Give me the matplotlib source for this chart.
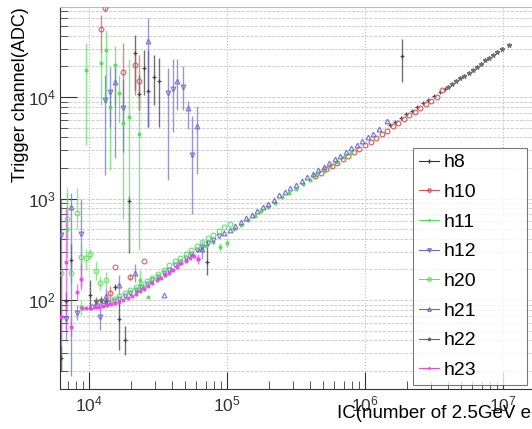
import numpy as np
import matplotlib
matplotlib.use("Agg")
import matplotlib.pyplot as plt
from matplotlib.lines import Line2D
from matplotlib.ticker import LogLocator, NullFormatter

plt.rcParams['font.family'] = ['Liberation Sans', 'DejaVu Sans']

# ---- data (log10 units) ----
# main curve pieces
h23_lx = [3.95, 3.98, 4.01, 4.04, 4.07, 4.10, 4.13, 4.16, 4.19, 4.22, 4.25, 4.28, 4.31, 4.34, 4.37,
          4.40, 4.43, 4.46, 4.49, 4.52, 4.55, 4.58, 4.61, 4.64, 4.67, 4.70, 4.73, 4.76, 4.79]
h23_ly = [1.92, 1.92, 1.92, 1.93, 1.93, 1.94, 1.95, 1.96, 1.97, 1.98, 2.00, 2.02, 2.04, 2.06, 2.09,
          2.11, 2.14, 2.17, 2.20, 2.22, 2.25, 2.27, 2.30, 2.33, 2.36, 2.38, 2.41, 2.43, 2.40]

h12_lx = [4.02, 4.06, 4.10, 4.14, 4.18, 4.22, 4.26, 4.30, 4.34, 4.38, 4.42, 4.46, 4.50, 4.54,
          4.58, 4.62, 4.66, 4.70, 4.74, 4.78, 4.82, 4.86, 4.90, 4.94]
h12_ly = [1.93, 1.94, 1.95, 1.97, 1.99, 2.01, 2.04, 2.07, 2.10, 2.13, 2.16, 2.20, 2.23, 2.27,
          2.30, 2.34, 2.37, 2.41, 2.45, 2.49, 2.52, 2.56, 2.59, 2.63]

h21_lx = [4.98, 5.02, 5.06, 5.10, 5.14, 5.18, 5.22, 5.26, 5.30, 5.34, 5.38, 5.42, 5.46, 5.50, 5.54,
          5.58, 5.62, 5.66, 5.70, 5.74, 5.78, 5.82, 5.86, 5.90, 5.94, 5.98, 6.02, 6.06, 6.10, 6.16]
h21_ly = [2.66, 2.69, 2.73, 2.77, 2.81, 2.84, 2.88, 2.92, 2.95, 2.99, 3.03, 3.06, 3.10, 3.13, 3.17,
          3.21, 3.24, 3.28, 3.31, 3.35, 3.39, 3.42, 3.46, 3.50, 3.53, 3.57, 3.61, 3.64, 3.68, 3.76]

h11_lx = [4.35, 4.40, 4.45, 4.50, 4.55, 4.60, 4.65, 4.70, 4.75, 4.80, 4.85, 4.90, 5.05, 5.10, 5.15,
          5.20, 5.25, 5.30, 5.35, 5.40, 5.45, 5.50, 5.55, 5.60, 5.65, 5.70, 5.75, 5.80, 5.85, 5.90]
h11_ly = [2.09, 2.13, 2.18, 2.22, 2.26, 2.30, 2.35, 2.39, 2.44, 2.49, 2.53, 2.57, 2.70, 2.74, 2.79,
          2.83, 2.88, 2.92, 2.96, 3.01, 3.05, 3.09, 3.14, 3.18, 3.23, 3.27, 3.32, 3.36, 3.41, 3.45]

h20_lx = [4.18, 4.22, 4.26, 4.30, 4.34, 4.38, 4.42, 4.46, 4.50, 4.54, 4.58, 4.62, 4.66, 4.70,
          4.74, 4.78, 4.82, 4.86, 4.90, 4.94, 4.98, 5.02]
h20_ly = [2.01, 2.04, 2.07, 2.10, 2.13, 2.16, 2.19, 2.22, 2.26, 2.30, 2.34, 2.38, 2.41, 2.45,
          2.49, 2.53, 2.57, 2.61, 2.64, 2.68, 2.72, 2.75]

h10_lx = [5.64, 5.68, 5.72, 5.76, 5.80, 5.84, 5.88, 5.92, 5.96, 6.00, 6.04, 6.08, 6.12, 6.16, 6.20,
          6.24, 6.28, 6.32, 6.36, 6.40, 6.44, 6.48, 6.52, 6.56]
h10_ly = [3.22, 3.25, 3.29, 3.32, 3.35, 3.39, 3.42, 3.46, 3.49, 3.53, 3.56, 3.60, 3.64, 3.67, 3.71,
          3.74, 3.78, 3.82, 3.85, 3.89, 3.93, 3.96, 4.00, 4.07]

h8_lx = [6.18, 6.22, 6.26, 6.30, 6.34, 6.38, 6.42, 6.46, 6.50, 6.54, 6.58]
h8_ly = [3.72, 3.75, 3.79, 3.83, 3.86, 3.90, 3.94, 3.97, 4.01, 4.05, 4.08]

h22_lx = [6.60, 6.63, 6.66, 6.69, 6.72, 6.75, 6.78, 6.81, 6.84, 6.87, 6.90, 6.93, 6.96, 6.99, 7.04]
h22_ly = [4.10, 4.13, 4.16, 4.19, 4.21, 4.24, 4.27, 4.30, 4.33, 4.36, 4.38, 4.41, 4.44, 4.47, 4.51]

# scattered points with error bars: x, y, y_low, y_high (log10)
h8_pts = [(6.27, 4.40, 4.15, 4.57), (4.29, 2.98, 2.46, 3.02), (4.33, 4.43, 4.07, 4.61),
          (4.36, 4.03, 3.87, 4.22), (4.40, 4.29, 4.02, 4.46), (4.43, 4.06, 3.70, 4.46),
          (4.47, 4.20, 3.92, 4.41), (4.51, 4.16, 3.70, 4.38), (4.22, 1.81, 1.51, 2.00),
          (4.26, 1.61, 1.46, 1.74), (3.87, 2.39, 2.30, 2.55), (3.83, 1.99, 1.90, 2.08),
          (3.80, 1.43, 1.30, 1.55), (4.01, 2.05, 1.90, 2.20), (4.19, 2.13, 2.10, 2.16),
          (4.855, 2.37, 2.25, 2.59)]
h22_pts = [(4.05, 1.99, 1.95, 2.03), (4.12, 1.99, 1.95, 2.03), (4.09, 2.00, 1.96, 2.04)]
h10_pts = [(4.116, 4.88, 4.84, 4.89), (4.085, 4.67, 4.43, 4.81), (4.25, 4.25, 3.92, 4.53),
           (4.33, 4.32, 4.02, 4.46), (4.36, 4.16, 3.87, 4.41), (4.15, 2.07, 2.00, 2.14),
           (4.19, 2.33, 2.33, 2.33), (4.30, 2.23, 2.20, 2.26), (4.40, 2.38, 2.38, 2.38)]
h11_pts = [(3.98, 4.27, 3.53, 4.53), (4.085, 4.34, 3.92, 4.53), (4.12, 4.46, 3.94, 4.66),
           (4.15, 3.90, 3.28, 4.07), (4.19, 4.32, 3.91, 4.50), (4.22, 4.04, 3.74, 4.22),
           (4.25, 3.74, 2.80, 4.00), (4.29, 3.80, 2.49, 4.37), (4.36, 3.64, 2.49, 4.05),
           (4.37, 2.20, 2.10, 2.30), (4.43, 2.03, 2.03, 2.03), (4.95, 2.52, 2.48, 2.56),
           (5.00, 2.56, 2.52, 2.60), (3.94, 1.93, 1.85, 2.00), (3.84, 2.70, 2.40, 3.05)]
h20_pts = [(3.80, 2.27, 2.10, 2.45), (3.87, 2.27, 2.17, 2.37), (3.94, 2.42, 2.30, 2.55),
           (3.98, 2.41, 2.30, 2.50), (4.01, 2.45, 2.40, 2.50), (4.05, 2.29, 2.20, 2.38),
           (4.08, 2.17, 2.10, 2.24), (4.12, 2.20, 2.12, 2.28), (3.84, 2.80, 2.60, 3.10),
           (3.91, 2.86, 2.70, 3.10)]
h12_pts = [(4.116, 3.97, 3.23, 4.22), (4.15, 4.05, 3.70, 4.30), (4.25, 3.89, 3.46, 4.17),
           (4.57, 4.04, 3.18, 4.29), (4.61, 4.08, 3.66, 4.37), (4.68, 4.10, 3.87, 4.31),
           (4.75, 3.43, 2.85, 3.81), (3.80, 2.64, 1.30, 3.00), (3.94, 2.65, 2.13, 3.00),
           (3.83, 1.81, 1.60, 2.00), (3.91, 1.87, 1.80, 1.95), (4.08, 1.83, 1.70, 1.95)]
h21_pts = [(4.19, 4.15, 3.40, 4.30), (4.43, 4.55, 3.70, 4.78), (4.64, 4.16, 3.87, 4.37),
           (4.72, 3.89, 3.68, 3.96), (4.78, 3.71, 3.24, 3.91), (3.87, 2.92, 1.25, 3.05),
           (4.12, 2.04, 1.95, 2.12), (4.22, 2.15, 2.05, 2.25), (4.33, 2.27, 2.18, 2.35),
           (4.54, 2.05, 2.05, 2.05), (4.82, 2.50, 2.40, 2.58)]
h23_pts = [(3.83, 2.37, 1.70, 2.90), (3.91, 2.08, 2.00, 2.16), (3.94, 2.21, 2.10, 2.35),
           (3.80, 1.83, 1.60, 2.30), (3.87, 1.73, 1.65, 1.82), (4.79, 2.40, 2.35, 2.45)]

names = ['h8', 'h10', 'h11', 'h12', 'h20', 'h21', 'h22', 'h23']
colors = {'h8': '#333333', 'h10': '#d45555', 'h11': '#55dd55', 'h12': '#6a6acc',
          'h20': '#66dd66', 'h21': '#6a6acc', 'h22': '#6a6a6a', 'h23': '#ee44ee'}
markers = {'h8': '+', 'h10': 'o', 'h11': '.', 'h12': 'v', 'h20': 'o', 'h21': '^', 'h22': '*', 'h23': '.'}
filled = {'h8': True, 'h10': False, 'h11': True, 'h12': False, 'h20': False, 'h21': False,
          'h22': True, 'h23': True}
curves = {'h8': (h8_lx, h8_ly), 'h10': (h10_lx, h10_ly), 'h11': (h11_lx, h11_ly),
          'h12': (h12_lx, h12_ly), 'h20': (h20_lx, h20_ly), 'h21': (h21_lx, h21_ly),
          'h22': (h22_lx, h22_ly), 'h23': (h23_lx, h23_ly)}
points = {'h8': h8_pts, 'h10': h10_pts, 'h11': h11_pts, 'h12': h12_pts, 'h20': h20_pts,
          'h21': h21_pts, 'h22': h22_pts, 'h23': h23_pts}

W, H = 532, 429
fig = plt.figure(figsize=(W / 100, H / 100), dpi=100)
ax = fig.add_axes([60 / W, 40 / H, 484 / W, 382 / H])
ax.set_xscale('log')
ax.set_yscale('log')
ax.set_xlim(10 ** 3.79, 10 ** 7.297)
ax.set_ylim(10 ** 1.123, 10 ** 4.887)

def mstyle(n):
    c = colors[n]
    return dict(marker=markers[n], ms=3.4 if markers[n] != '.' else 4.2, mew=0.9,
                mec=c, mfc=c if filled[n] else 'none', color=c)

for n in names:
    st = mstyle(n)
    pts = np.array(points[n])
    x = 10 ** pts[:, 0]
    y = 10 ** pts[:, 1]
    lo = 10 ** pts[:, 2]
    hi = 10 ** pts[:, 3]
    ax.errorbar(x, y, yerr=[y - lo, hi - y], fmt='none', ecolor=st['color'], elinewidth=1.0,
                alpha=0.7, zorder=2)
    ax.plot(x, y, ls='none', alpha=0.85, zorder=3, **st)
    lx, ly = curves[n]
    ax.plot(10 ** np.array(lx), 10 ** np.array(ly), ls='none', alpha=0.9, zorder=3, **st)

# grid: horizontal at every y tick, vertical at decades only
ax.yaxis.set_major_locator(LogLocator(base=10, numticks=10))
ax.yaxis.set_minor_locator(LogLocator(base=10, subs=np.arange(2, 10), numticks=20))
ax.xaxis.set_minor_locator(LogLocator(base=10, subs=np.arange(2, 10), numticks=20))
ax.xaxis.set_minor_formatter(NullFormatter())
ax.yaxis.set_minor_formatter(NullFormatter())
ax.grid(True, which='major', axis='x', color='#bbbbbb', ls=':', lw=0.8)
ax.grid(True, which='both', axis='y', color='#c8c8c8', ls='--', lw=0.6)
ax.set_axisbelow(True)

ax.tick_params(which='major', direction='in', length=12, width=0.8, labelsize=12.5,
               top=False, right=False, colors='#333333')
ax.tick_params(which='minor', direction='in', length=6, width=0.7, top=False, right=False,
               colors='#555555')
ax.tick_params(axis='x', pad=4)
ax.tick_params(axis='y', pad=3)
for s in ['left', 'bottom']:
    ax.spines[s].set_color('#333333')
ax.spines['top'].set_color('#bbbbbb')

ax.set_ylabel('Trigger channel(ADC)', loc='top', fontsize=13)
ax.yaxis.set_label_coords(-31 / 484, 1.0)
ax.set_xlabel('IC(number of 2.5GeV e-)', loc='right', fontsize=13.5, labelpad=-7)

handles = [Line2D([0], [0], lw=0.8, **mstyle(n)) for n in names]
for h in handles:
    h.set_markersize(2.5)
leg = fig.legend(handles, names, loc='upper left',
                 bbox_to_anchor=(413 / W, 1 - 382 / H, 114 / W, 234 / H), mode='expand',
                 fontsize=14, frameon=True, fancybox=False, handlelength=1.05,
                 handletextpad=0.2, labelspacing=0.62, borderpad=0.3, borderaxespad=0)
leg.get_frame().set_edgecolor('#555555')
leg.get_frame().set_linewidth(0.8)

fig.savefig('out.png', dpi=100)
